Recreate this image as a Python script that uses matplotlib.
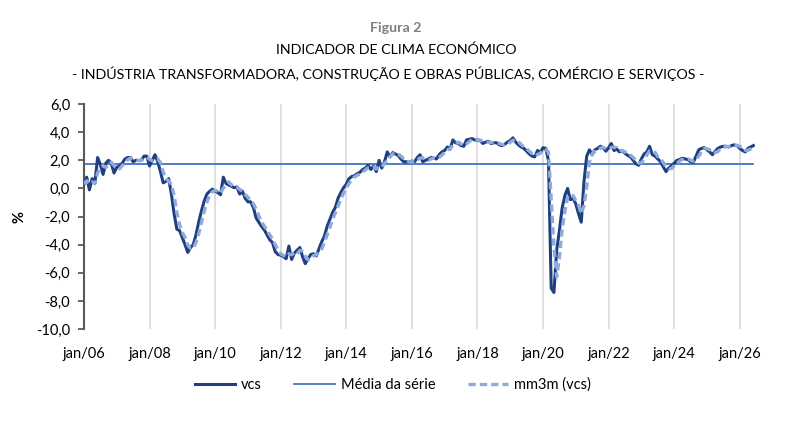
import matplotlib
matplotlib.use("Agg")
import matplotlib.pyplot as plt
import numpy as np

plt.rcParams['font.family'] = ['Lato', 'DejaVu Sans']

# Monthly series starting jan/2006
vcs = [
    0.3, 0.8, -0.1, 0.7, 0.4, 2.2, 1.7, 1.0, 1.8, 2.0, 1.8, 1.1,
    1.5, 1.6, 1.8, 2.1, 2.2, 2.2, 1.9, 2.0, 2.0, 2.0, 2.3, 2.3,
    1.6, 2.0, 2.4, 1.9, 1.2, 0.4, 0.5, 0.7, -0.4, -1.8, -2.9, -3.0,
    -3.5, -4.0, -4.55, -4.2, -4.0, -3.3, -2.4, -1.6, -0.9, -0.4, -0.2, -0.05,
    -0.2, -0.3, -0.45, 0.8, 0.35, 0.25, 0.15, 0.05, 0.1, -0.4, -0.2, -0.7,
    -0.95, -0.95, -1.35, -2.1, -2.4, -2.7, -2.95, -3.3, -3.65, -3.85, -4.5, -4.7,
    -4.75, -4.85, -5.0, -4.1, -5.05, -4.6, -4.4, -4.2, -4.85, -5.35, -5.0, -4.7,
    -4.65, -4.8, -4.3, -3.8, -3.4, -2.7, -2.2, -1.7, -1.35, -0.7, -0.3, 0.05,
    0.3, 0.7, 0.85, 0.9, 1.05, 1.15, 1.35, 1.45, 1.65, 1.35, 1.6, 1.2,
    2.0, 1.45, 1.9, 2.6, 2.25, 2.55, 2.45, 2.35, 2.1, 1.9, 1.9, 1.85,
    1.95, 1.9, 2.2, 2.4, 1.9, 2.0, 2.1, 2.2, 2.15, 2.1, 2.4, 2.6,
    2.7, 2.95, 2.8, 3.45, 3.25, 3.2, 3.05, 3.0, 3.45, 3.5, 3.55, 3.45,
    3.45, 3.4, 3.2, 3.3, 3.35, 3.2, 3.25, 3.25, 3.1, 3.05, 3.15, 3.3,
    3.4, 3.6, 3.3, 3.1, 2.95, 2.85, 2.65, 2.45, 2.3, 2.25, 2.7, 2.55,
    2.9, 2.85, 2.0, -7.1, -7.4, -4.4, -3.0, -1.4, -0.5, 0.0, -0.8, -0.7,
    -1.1, -1.8, -2.4, 0.5, 2.3, 2.75, 2.4, 2.75, 2.85, 3.0, 2.9, 2.65,
    2.9, 3.2, 2.7, 2.8, 2.6, 2.7, 2.5, 2.35, 2.25, 2.0, 1.75, 1.65,
    2.1, 2.45, 2.6, 3.0, 2.4, 2.3, 2.1, 1.9, 1.55, 1.2, 1.45, 1.6,
    1.8, 2.0, 2.05, 2.15, 2.1, 2.05, 1.9, 1.85, 2.3, 2.75, 2.85, 2.9,
    2.75, 2.6, 2.4, 2.65, 2.85, 2.95, 3.0, 3.0, 2.95, 3.05, 3.1, 3.05,
    2.85, 2.7, 2.6, 2.85, 2.95, 3.05,
]

mm3m = [
    0.3, 0.55, 0.33, 0.47, 0.33, 1.1, 1.43, 1.63, 1.5, 1.6, 1.87, 1.63,
    1.47, 1.4, 1.63, 1.83, 2.03, 2.17, 2.1, 2.03, 1.97, 2.0, 2.1, 2.2,
    2.07, 1.97, 2.0, 2.1, 1.83, 1.17, 0.7, 0.53, 0.27, -0.5, -1.7, -2.57,
    -3.13, -3.5, -4.02, -4.25, -4.25, -3.83, -3.23, -2.43, -1.63, -0.97, -0.5, -0.22,
    -0.15, -0.18, -0.32, 0.02, 0.23, 0.47, 0.25, 0.15, 0.1, -0.08, -0.17, -0.43,
    -0.62, -0.87, -1.08, -1.47, -1.95, -2.4, -2.68, -2.98, -3.3, -3.6, -4.0, -4.35,
    -4.65, -4.77, -4.87, -4.65, -4.72, -4.58, -4.68, -4.4, -4.48, -4.8, -5.07, -5.02,
    -4.78, -4.72, -4.58, -4.3, -3.83, -3.3, -2.77, -2.2, -1.75, -1.25, -0.78, -0.32,
    0.02, 0.35, 0.62, 0.82, 0.93, 1.03, 1.18, 1.32, 1.48, 1.48, 1.53, 1.38,
    1.6, 1.55, 1.78, 1.98, 2.25, 2.47, 2.42, 2.45, 2.3, 2.12, 1.97, 1.88,
    1.9, 1.9, 2.02, 2.17, 2.17, 2.1, 2.0, 2.1, 2.15, 2.15, 2.22, 2.37,
    2.57, 2.75, 2.82, 3.07, 3.17, 3.3, 3.17, 3.08, 3.17, 3.32, 3.5, 3.5,
    3.48, 3.43, 3.35, 3.3, 3.28, 3.28, 3.27, 3.23, 3.2, 3.13, 3.1, 3.17,
    3.28, 3.43, 3.43, 3.33, 3.12, 2.97, 2.82, 2.65, 2.47, 2.33, 2.42, 2.5,
    2.72, 2.77, 2.58, -0.75, -4.17, -6.3, -4.93, -2.93, -1.63, -0.63, -0.43, -0.5,
    -0.87, -1.2, -1.77, -1.23, 0.13, 1.85, 2.48, 2.63, 2.67, 2.87, 2.92, 2.85,
    2.82, 2.92, 2.93, 2.9, 2.7, 2.7, 2.6, 2.52, 2.37, 2.2, 2.0, 1.8,
    1.83, 2.07, 2.38, 2.68, 2.67, 2.57, 2.27, 2.1, 1.85, 1.55, 1.4, 1.42,
    1.62, 1.8, 1.95, 2.07, 2.1, 2.1, 2.02, 1.93, 2.02, 2.3, 2.63, 2.83,
    2.83, 2.75, 2.58, 2.55, 2.63, 2.82, 2.93, 2.98, 2.98, 3.0, 3.03, 3.07,
    3.0, 2.87, 2.72, 2.72, 2.8, 2.95,
]

media = 1.75

tick_labels = ["jan/06", "jan/08", "jan/10", "jan/12", "jan/14", "jan/16",
               "jan/18", "jan/20", "jan/22", "jan/24", "jan/26"]
y_ticks = [6, 4, 2, 0, -2, -4, -6, -8, -10]

n = len(vcs)
x = np.arange(n)

fig = plt.figure(figsize=(7.92, 4.48), dpi=100)
ax = fig.add_axes([0.106, 0.2656, 0.847, 0.502])

for k in range(1, len(tick_labels)):
    ax.axvline(24 * k, color="#D9D9D9", lw=1.2, zorder=0)

ax.plot(x, vcs, color="#1F3F7F", lw=2.2, label="vcs", zorder=3,
        solid_joinstyle="round")
ax.plot([0, n - 1], [media, media], color="#4472C4", lw=1.3,
        label="Média da série", zorder=2)
ax.plot(x, mm3m, color="#8FAADC", lw=2.4, ls=(0, (2.2, 1.2)),
        label="mm3m (vcs)", zorder=4)

ax.set_xlim(0, 245.5)
ax.set_ylim(-10, 6)
ax.set_yticks(y_ticks)
ax.set_yticklabels([f"{v:.1f}".replace(".", ",") for v in y_ticks])
ax.set_xticks([24 * k for k in range(len(tick_labels))])
ax.set_xticklabels(tick_labels)

for s in ["top", "right", "bottom"]:
    ax.spines[s].set_visible(False)
ax.spines["left"].set_color("#595959")
ax.spines["left"].set_linewidth(1.5)
ax.tick_params(axis="y", length=4, width=1.3, color="#595959", pad=6,
               labelsize=10.5, labelcolor="#000000")
ax.tick_params(axis="x", length=0, pad=13, labelsize=10.5,
               labelcolor="#000000")

ax.set_ylabel("%", fontsize=10.5, fontweight="bold", labelpad=7)

fig.text(0.5, 1 - 28 / 448, "Figura 2", ha="center", va="center",
         fontsize=10.3, fontweight="bold", color="#7F7F7F")
fig.text(0.5, 1 - 50 / 448, "INDICADOR DE CLIMA ECONÓMICO", ha="center",
         va="center", fontsize=10.3, color="#000000")
fig.text(0.49, 1 - 74 / 448,
         "- INDÚSTRIA TRANSFORMADORA, CONSTRUÇÃO E OBRAS PÚBLICAS, COMÉRCIO E SERVIÇOS -",
         ha="center", va="center", fontsize=10.25, color="#000000")

leg = fig.legend(loc="center", bbox_to_anchor=(0.496, 1 - 385 / 448), ncol=3,
                 frameon=False, fontsize=10.5, handlelength=2.8,
                 columnspacing=2.2, handletextpad=0.4)

fig.savefig("out.png", dpi=100)
